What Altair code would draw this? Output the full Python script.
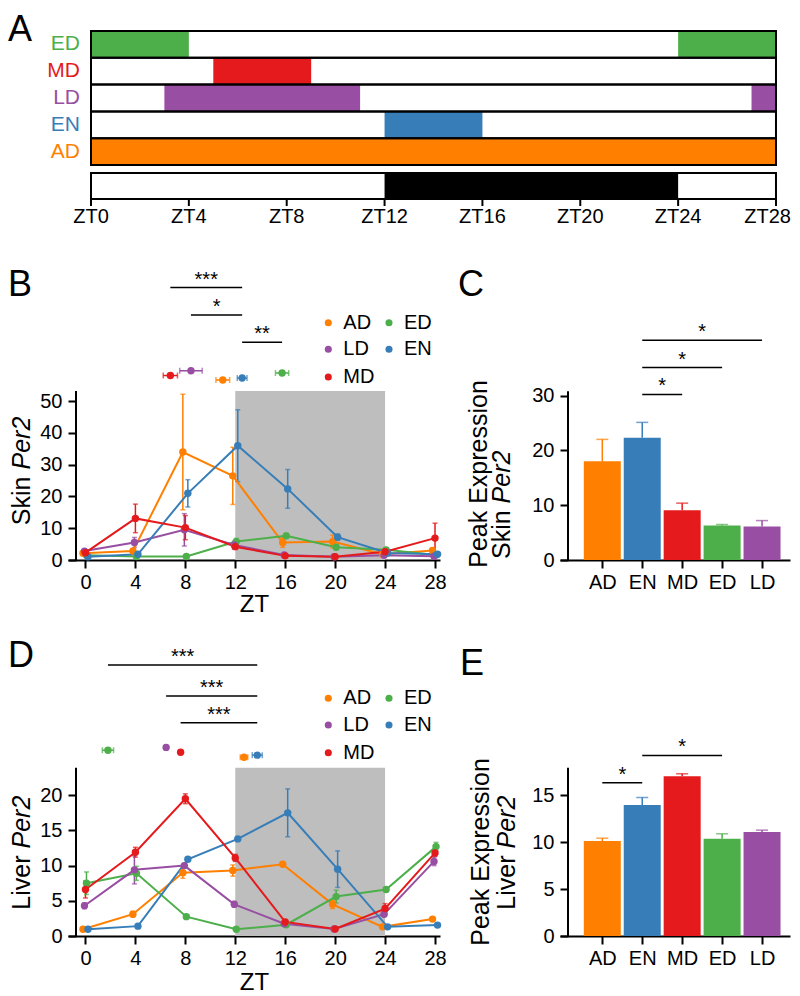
import altair as alt
import pandas as pd

FONT = "Liberation Sans"

# ---------------- data ----------------
GROUPS = ["AD", "ED", "LD", "EN", "MD"]
GROUP_COLORS = ["#FF7F00", "#4DAF4A", "#984EA3", "#377EB8", "#E41A1C"]
ZT = [0, 4, 8, 12, 16, 20, 24, 28]

# Panel A: feeding schedule
FEED_ROWS = ["ED", "MD", "LD", "EN", "AD"]
FEED_GROUP = ["ED", "ED", "MD", "LD", "LD", "EN", "AD"]
FEED_START = [0, 24, 5, 3, 27, 12, 0]
FEED_END = [4, 28, 9, 11, 28, 16, 28]
DARK_START = 12
DARK_END = 24
A_TICKS = [0, 4, 8, 12, 16, 20, 24, 28]

# Panel B: skin Per2
skin_mean = {
    "AD": [2.1, 2.8, 34.0, 26.5, 5.5, 5.8, 1.8, 3.0],
    "ED": [1.5, 1.1, 1.1, 5.8, 7.6, 4.0, 3.2, 1.6],
    "LD": [2.8, 5.5, 9.5, 4.7, 1.6, 1.0, 1.5, 1.2],
    "EN": [1.0, 1.8, 21.0, 36.0, 22.4, 7.2, 2.2, 1.8],
    "MD": [2.3, 13.1, 10.2, 4.2, 1.3, 1.0, 2.6, 6.9],
}
skin_sem = {
    "AD": [0.5, 0.8, 18.2, 9.0, 1.5, 2.0, 0.5, 0.5],
    "ED": [0.3, 0.2, 0.2, 1.0, 0.8, 0.7, 0.6, 0.3],
    "LD": [0.5, 1.6, 5.1, 1.2, 0.3, 0.3, 0.3, 0.3],
    "EN": [0.3, 0.4, 4.3, 11.3, 6.1, 1.0, 0.5, 0.3],
    "MD": [0.5, 4.5, 3.8, 0.8, 0.3, 0.3, 0.5, 4.7],
}
skin_phase = {"AD": 11.0, "ED": 15.75, "LD": 8.45, "EN": 12.55, "MD": 6.8}
skin_phase_sem = {"AD": 0.55, "ED": 0.53, "LD": 0.9, "EN": 0.39, "MD": 0.57}
skin_sig_pairs = [("MD", "EN"), ("LD", "EN"), ("EN", "ED")]
skin_sig_marks = ["***", "*", "**"]

# Panel C: skin peak
BAR_ORDER = ["AD", "EN", "MD", "ED", "LD"]
skin_peak = [18.0, 22.3, 9.07, 6.27, 6.09]
skin_peak_sem = [4.0, 2.8, 1.3, 0.2, 1.1]
skin_peak_sig_pairs = [("EN", "LD"), ("EN", "ED"), ("EN", "MD")]
skin_peak_sig_marks = ["*", "*", "*"]

# Panel D: liver Per2
liver_mean = {
    "AD": [0.95, 3.1, 9.0, 9.3, 10.2, 4.5, 1.3, 2.4],
    "ED": [7.5, 8.9, 2.75, 0.95, 1.6, 5.6, 6.6, 12.7],
    "LD": [4.3, 9.4, 10.0, 4.5, 1.75, 1.0, 3.1, 10.6],
    "EN": [0.95, 1.4, 10.9, 13.8, 17.5, 9.5, 1.3, 1.55],
    "MD": [6.6, 11.9, 19.5, 11.1, 2.0, 1.0, 3.9, 11.8],
}
liver_sem = {
    "AD": [0.1, 0.4, 0.8, 0.8, 0.2, 0.6, 0.2, 0.2],
    "ED": [1.6, 1.0, 0.2, 0.1, 0.2, 0.9, 0.3, 0.6],
    "LD": [0.4, 2.0, 0.3, 0.4, 0.2, 0.1, 0.3, 0.6],
    "EN": [0.1, 0.1, 0.3, 0.2, 3.4, 2.6, 0.2, 0.1],
    "MD": [1.2, 0.7, 0.7, 0.5, 0.2, 0.1, 0.7, 0.5],
}
liver_phase = {"AD": 12.7, "ED": 1.8, "LD": 6.46, "EN": 13.76, "MD": 7.62}
liver_phase_sem = {"AD": 0.3, "ED": 0.45, "LD": 0.1, "EN": 0.4, "MD": 0.1}
liver_sig_pairs = [("ED", "EN"), ("LD", "EN"), ("MD", "EN")]
liver_sig_marks = ["***", "***", "***"]

# Panel E: liver peak
liver_peak = [10.13, 13.97, 17.03, 10.38, 11.09]
liver_peak_sem = [0.3, 0.8, 0.27, 0.52, 0.2]
liver_peak_sig_pairs = [("EN", "ED"), ("AD", "EN")]
liver_peak_sig_marks = ["*", "*"]

# ---------------- layout (not data) ----------------
DODGE = {"AD": -0.2, "LD": -0.08, "MD": 0.0, "ED": 0.08, "EN": 0.2}
LINE_W, BAR_W = 372, 230
A_H, ROW2_H, ROW3_H = 168, 301, 316
A_PX_PER_H = 24.464
A_X = [-0.94, -0.94 + LINE_W / A_PX_PER_H]   # panel A drawn past its nominal width
A_Y = [0.0, 6.27]
LIGHT_ROW = [5.3, 6.27]
LINE_X = [-1.40, 28.40]
BAR_X = [-0.934, 4.575]
SKIN_Y = [0.0, 94.8]
SKIN_AXIS_TOP = 53.2
SKIN_TICKS = [0, 10, 20, 30, 40, 50]
SKIN_PHASE_Y = {"AD": 56.7, "ED": 58.9, "LD": 59.6, "EN": 57.3, "MD": 58.1}
SKIN_SIG_Y = [85.8, 77.2, 68.6]
PSKIN_Y = [0.0, 54.9]
PSKIN_AXIS_TOP = 30.8
PSKIN_TICKS = [0, 10, 20, 30]
PSKIN_SIG_Y = [40.1, 35.1, 30.2]
LIVER_Y = [0.0, 44.9]
LIVER_AXIS_TOP = 23.9
LIVER_TICKS = [0, 5, 10, 15, 20]
LIVER_PHASE_Y = {"AD": 25.4, "ED": 26.4, "LD": 26.8, "EN": 25.7, "MD": 26.1}
LIVER_SIG_Y = [38.5, 34.1, 30.3]
PLIVER_Y = [0.0, 33.7]
PLIVER_AXIS_TOP = 17.94
PLIVER_TICKS = [0, 5, 10, 15]
PLIVER_SIG_Y = [19.26, 16.34]

color_scale = alt.Scale(domain=GROUPS, range=GROUP_COLORS)


def xd(px, dom, w):
    return dom[0] + px / w * (dom[1] - dom[0])


def yd(py, dom, h):
    return dom[1] - py / h * (dom[1] - dom[0])


def T(s, x, y, size, **kw):
    kw.setdefault("color", "black")
    return alt.Chart(pd.DataFrame({"t": [s]})).mark_text(
        text=s, font=FONT, fontSize=size, **kw
    ).encode(x=alt.value(x), y=alt.value(y))


def ytitle(word, x, mid):
    return [
        T(word, x, mid + 3.5, 25, angle=270, align="right", baseline="middle"),
        T("Per2", x, mid - 3.5, 25, angle=270, align="left", baseline="middle",
          fontStyle="italic"),
    ]


def yaxis_for(ticks):
    return alt.Axis(values=ticks, title=None, grid=False, domain=False, offset=-8,
                    tickSize=8, labelPadding=6)


# ---------------- panel A ----------------
def panel_a():
    xs = alt.Scale(domain=A_X, nice=False, zero=False)
    ys = alt.Scale(domain=A_Y, nice=False, zero=False, reverse=True)
    X = lambda f: alt.X(f, scale=xs, axis=None)
    Y = lambda f: alt.Y(f, scale=ys, axis=None)

    feed = pd.DataFrame({
        "group": FEED_GROUP, "s": FEED_START, "e": FEED_END,
        "r0": [FEED_ROWS.index(g) for g in FEED_GROUP],
    })
    feed["r1"] = feed["r0"] + 1
    rows = pd.DataFrame({"group": FEED_ROWS, "r0": list(range(len(FEED_ROWS)))})
    rows["r1"] = rows["r0"] + 1
    rows["rm"] = rows["r0"] + 0.5
    rows["s"] = 0
    rows["e"] = 28
    light = pd.DataFrame({"s": [0], "e": [28], "r0": [LIGHT_ROW[0]], "r1": [LIGHT_ROW[1]],
                          "ds": [DARK_START], "de": [DARK_END]})
    ticks = pd.DataFrame({"zt": A_TICKS, "lab": ["ZT%d" % t for t in A_TICKS]})

    fills = alt.Chart(feed).mark_rect().encode(
        x=X("s:Q"), x2="e:Q", y=Y("r0:Q"), y2="r1:Q",
        color=alt.Color("group:N", scale=color_scale, legend=None))
    outlines = alt.Chart(rows).mark_rect(fillOpacity=0, stroke="black", strokeWidth=2).encode(
        x=X("s:Q"), x2="e:Q", y=Y("r0:Q"), y2="r1:Q")
    dark = alt.Chart(light).mark_rect(color="black").encode(
        x=X("ds:Q"), x2="de:Q", y=Y("r0:Q"), y2="r1:Q")
    light_box = alt.Chart(light).mark_rect(fillOpacity=0, stroke="black", strokeWidth=2).encode(
        x=X("s:Q"), x2="e:Q", y=Y("r0:Q"), y2="r1:Q")
    labels = alt.Chart(rows).mark_text(font=FONT, fontSize=21, align="right",
                                        baseline="middle").encode(
        x=alt.value(12), y=Y("rm:Q"), text="group:N",
        color=alt.Color("group:N", scale=color_scale, legend=None))
    tick_marks = alt.Chart(ticks).mark_rule(color="black", strokeWidth=2).encode(
        x=X("zt:Q"), y=alt.value(A_H), y2=alt.value(A_H + 7))
    tick_labels = alt.Chart(ticks.iloc[:-1]).mark_text(
        font=FONT, fontSize=20, baseline="top", color="black").encode(
        x=X("zt:Q"), y=alt.value(A_H + 8), text="lab:N")
    # last label kept inside the page edge
    last_label = alt.Chart(ticks.iloc[-1:]).mark_text(
        font=FONT, fontSize=20, baseline="top", align="right", dx=15, color="black").encode(
        x=X("zt:Q"), y=alt.value(A_H + 8), text="lab:N")
    # invisible holder fixing the top edge of the figure
    holder = alt.Chart(pd.DataFrame({"v": [0]})).mark_rule(
        strokeOpacity=0, strokeWidth=0).encode(
        x=alt.value(-60), x2=alt.value(-50), y=alt.value(-23))
    letter = T("A", -60, -18, 36, align="left", baseline="top")
    return alt.layer(fills, outlines, dark, light_box, labels, tick_marks, tick_labels,
                     last_label, holder, letter).properties(width=LINE_W, height=A_H)


# ---------------- line panels (B, D) ----------------
def line_panel(mean, sem, phase, phase_sem, phase_y, sig_pairs, sig_marks, sig_y,
               ydom, height, yticks, axis_top, legend_rows, tword, tmid, letter, letter_y,
               title_pad):
    xs = alt.Scale(domain=LINE_X, nice=False, zero=False)
    ys = alt.Scale(domain=ydom, nice=False, zero=False)
    xaxis = alt.Axis(values=ZT, title="ZT", grid=False, tickSize=8, labelPadding=4,
                     titlePadding=title_pad, titleFontSize=24, domainWidth=2)
    yaxis = yaxis_for(yticks)
    X = lambda f: alt.X(f, scale=xs, axis=xaxis)
    Y = lambda f: alt.Y(f, scale=ys, axis=yaxis)
    C = alt.Color("group:N", scale=color_scale, legend=None)

    rows = []
    for g in GROUPS:
        for i, t in enumerate(ZT):
            m, s = mean[g][i], sem[g][i]
            rows.append(dict(group=g, x=t + DODGE[g], m=m, lo=m - s, hi=m + s))
    df = pd.DataFrame(rows)
    caps = pd.concat([df.assign(c=df["lo"]), df.assign(c=df["hi"])])

    shade = pd.DataFrame({"s": [DARK_START], "e": [DARK_END], "y0": [0.0], "y1": [axis_top]})
    layers = [
        alt.Chart(shade).mark_rect(color="#BEBEBE").encode(
            x=X("s:Q"), x2="e:Q", y=Y("y0:Q"), y2="y1:Q"),
        alt.Chart(shade).mark_rule(color="black", strokeWidth=2).encode(
            x=alt.value(8), y=Y("y0:Q"), y2="y1:Q"),
        alt.Chart(df).mark_rule(strokeWidth=1.5).encode(
            x=X("x:Q"), y=Y("lo:Q"), y2="hi:Q", color=C),
        alt.Chart(caps).mark_tick(orient="horizontal", size=5, thickness=1.5).encode(
            x=X("x:Q"), y=Y("c:Q"), color=C),
        alt.Chart(df).mark_line(strokeWidth=2).encode(
            x=X("x:Q"), y=Y("m:Q"), color=C, detail="group:N"),
        alt.Chart(df).mark_circle(size=55, opacity=1).encode(
            x=X("x:Q"), y=Y("m:Q"), color=C),
    ]

    ph = pd.DataFrame({"group": GROUPS,
                       "p": [phase[g] for g in GROUPS],
                       "lo": [phase[g] - phase_sem[g] for g in GROUPS],
                       "hi": [phase[g] + phase_sem[g] for g in GROUPS],
                       "y": [phase_y[g] for g in GROUPS]})
    phcaps = pd.concat([ph.assign(c=ph["lo"]), ph.assign(c=ph["hi"])])
    layers += [
        alt.Chart(ph).mark_rule(strokeWidth=1.5).encode(
            x=X("lo:Q"), x2="hi:Q", y=Y("y:Q"), color=C),
        alt.Chart(phcaps).mark_tick(orient="vertical", size=6, thickness=1.5).encode(
            x=X("c:Q"), y=Y("y:Q"), color=C),
        alt.Chart(ph).mark_circle(size=55, opacity=1).encode(
            x=X("p:Q"), y=Y("y:Q"), color=C),
    ]

    sig = pd.DataFrame({
        "a": [phase[p[0]] for p in sig_pairs],
        "b": [phase[p[1]] for p in sig_pairs],
        "y": sig_y, "t": sig_marks})
    sig["mid"] = (sig["a"] + sig["b"]) / 2
    layers += [
        alt.Chart(sig).mark_rule(color="black", strokeWidth=1.5).encode(
            x=X("a:Q"), x2="b:Q", y=Y("y:Q")),
        alt.Chart(sig).mark_text(font=FONT, fontSize=20, baseline="alphabetic", dy=-2,
                                 color="black").encode(
            x=X("mid:Q"), y=Y("y:Q"), text="t:N"),
    ]

    # legend (2 columns)
    col_px = [260.3, 321.0]
    pos = [(0, 0), (1, 0), (0, 1), (1, 1), (0, 2)]
    leg = pd.DataFrame({
        "group": GROUPS,
        "lx": [xd(col_px[c], LINE_X, LINE_W) for c, r in pos],
        "tx": [xd(col_px[c] + 15, LINE_X, LINE_W) for c, r in pos],
        "ly": [yd(legend_rows[r], ydom, height) for c, r in pos]})
    layers += [
        alt.Chart(leg).mark_circle(size=50, opacity=1).encode(
            x=X("lx:Q"), y=Y("ly:Q"), color=C),
        alt.Chart(leg).mark_text(font=FONT, fontSize=20, align="left", baseline="middle",
                                 color="black").encode(
            x=X("tx:Q"), y=Y("ly:Q"), text="group:N"),
    ]
    layers += ytitle(tword, -46, tmid)
    layers.append(T(letter, -60, letter_y, 36, align="left", baseline="top"))
    return alt.layer(*layers).properties(width=LINE_W, height=height)


# ---------------- bar panels (C, E) ----------------
def bar_panel(vals, sems, sig_pairs, sig_marks, sig_y, ydom, height, yticks, axis_top,
              t1x, t1mid, t2x, t2mid, tword, letter, letter_x, letter_y):
    xs = alt.Scale(domain=BAR_X, nice=False, zero=False)
    ys = alt.Scale(domain=ydom, nice=False, zero=False)
    lab = "[" + ",".join("'%s'" % g for g in BAR_ORDER) + "][datum.value]"
    xaxis = alt.Axis(values=list(range(len(BAR_ORDER))), labelExpr=lab, title=None,
                     grid=False, tickSize=8, labelPadding=4, domainWidth=2)
    yaxis = yaxis_for(yticks)
    X = lambda f: alt.X(f, scale=xs, axis=xaxis)
    Y = lambda f: alt.Y(f, scale=ys, axis=yaxis)
    C = alt.Color("group:N", scale=color_scale, legend=None)

    df = pd.DataFrame({"group": BAR_ORDER, "i": list(range(len(BAR_ORDER))),
                       "m": vals, "hi": [v + s for v, s in zip(vals, sems)], "z": 0.0})
    ax = pd.DataFrame({"y0": [0.0], "y1": [axis_top]})
    sig = pd.DataFrame({
        "a": [BAR_ORDER.index(p[0]) for p in sig_pairs],
        "b": [BAR_ORDER.index(p[1]) for p in sig_pairs],
        "y": sig_y, "t": sig_marks})
    sig["mid"] = (sig["a"] + sig["b"]) / 2
    layers = [
        alt.Chart(df).mark_rule(strokeWidth=1.5).encode(
            x=X("i:Q"), y=Y("m:Q"), y2="hi:Q", color=C),
        alt.Chart(df).mark_tick(orient="horizontal", size=12, thickness=1.5).encode(
            x=X("i:Q"), y=Y("hi:Q"), color=C),
        alt.Chart(df).mark_bar(orient="vertical", size=37, opacity=1).encode(
            x=X("i:Q"), y=Y("m:Q"), y2="z:Q", color=C),
        alt.Chart(ax).mark_rule(color="black", strokeWidth=2).encode(
            x=alt.value(8), y=Y("y0:Q"), y2="y1:Q"),
        alt.Chart(sig).mark_rule(color="black", strokeWidth=1.5).encode(
            x=X("a:Q"), x2="b:Q", y=Y("y:Q")),
        alt.Chart(sig).mark_text(font=FONT, fontSize=20, baseline="alphabetic", dy=-2,
                                 color="black").encode(
            x=X("mid:Q"), y=Y("y:Q"), text="t:N"),
        T("Peak Expression", t1x, t1mid, 25, angle=270, align="center", baseline="middle"),
    ]
    layers += ytitle(tword, t2x, t2mid)
    layers.append(T(letter, letter_x, letter_y, 36, align="left", baseline="top"))
    return alt.layer(*layers).properties(width=BAR_W, height=height)


B = line_panel(skin_mean, skin_sem, skin_phase, skin_phase_sem, SKIN_PHASE_Y,
               skin_sig_pairs, skin_sig_marks, SKIN_SIG_Y, SKIN_Y, ROW2_H, SKIN_TICKS,
               SKIN_AXIS_TOP, [63.7, 90.3, 118.0], "Skin", 214, "B", 9, 0)
Cp = bar_panel(skin_peak, skin_peak_sem, skin_peak_sig_pairs, skin_peak_sig_marks,
               PSKIN_SIG_Y, PSKIN_Y, ROW2_H, PSKIN_TICKS, PSKIN_AXIS_TOP,
               -81, 215, -58.5, 247.9, "Skin", "C", -102, 9)
D = line_panel(liver_mean, liver_sem, liver_phase, liver_phase_sem, LIVER_PHASE_Y,
               liver_sig_pairs, liver_sig_marks, LIVER_SIG_Y, LIVER_Y, ROW3_H, LIVER_TICKS,
               LIVER_AXIS_TOP, [78.3, 105.0, 132.7], "Liver", 232, "D", 19, 2)
E = bar_panel(liver_peak, liver_peak_sem, liver_peak_sig_pairs, liver_peak_sig_marks,
              PLIVER_SIG_Y, PLIVER_Y, ROW3_H, PLIVER_TICKS, PLIVER_AXIS_TOP,
              -79, 232, -53.5, 232, "Liver", "E", -100, 27)

# empty placeholder cell so that panel A sits alone in the first grid row
spacer = alt.Chart(pd.DataFrame({"v": []})).mark_point().properties(width=1, height=1)

chart = alt.concat(
    panel_a(), spacer, B, Cp, D, E, columns=2,
    spacing={"row": 60, "column": 120},
    align={"row": "each", "column": "none"},
    bounds="flush",
).properties(
    padding={"left": 0, "top": 0, "right": 0, "bottom": 0}
).configure(font=FONT).configure_view(stroke=None).configure_axis(
    labelFont=FONT, labelFontSize=20, labelColor="black", tickColor="black",
    domainColor="black", tickWidth=2, domainWidth=2, titleFont=FONT, titleFontSize=25,
    titleFontWeight="normal", titleColor="black", grid=False
)

chart.save("out.html", embed_options={"renderer": "svg", "actions": False})
